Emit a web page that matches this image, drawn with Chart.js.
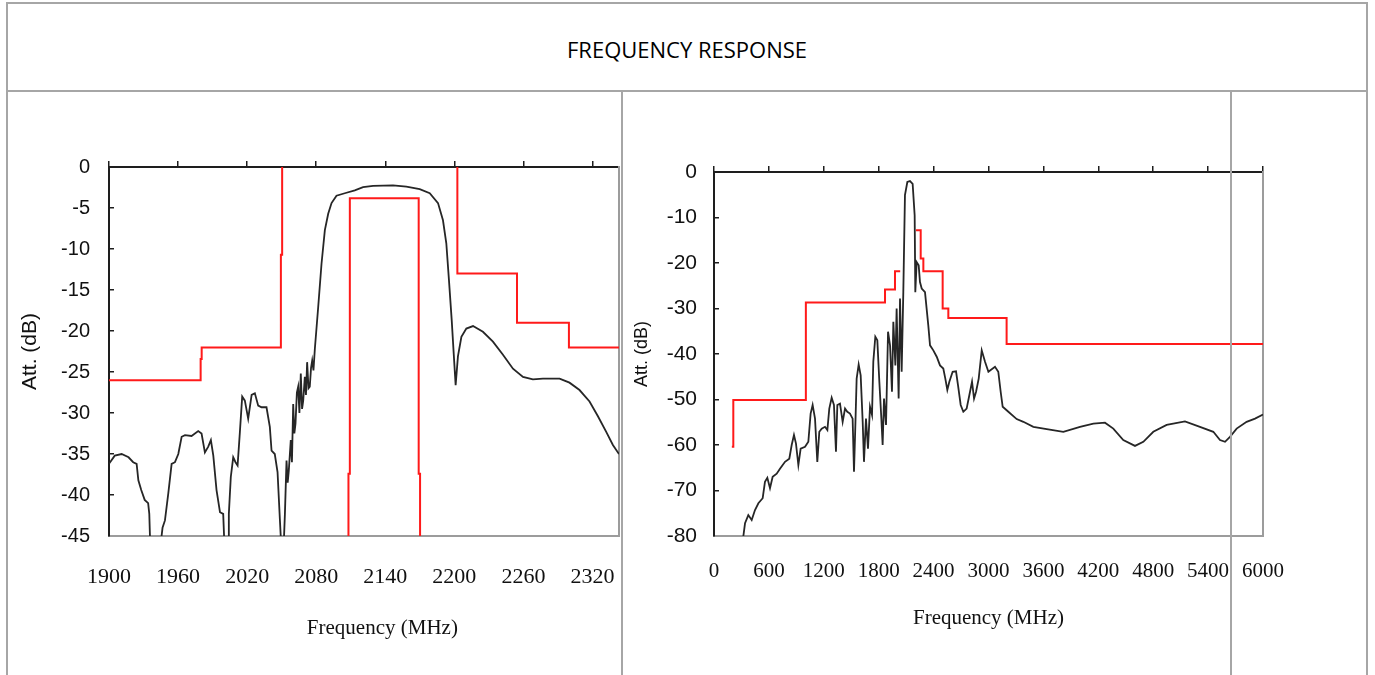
<!DOCTYPE html>
<html>
<head>
<meta charset="utf-8">
<title>Frequency response</title>
<script src="https://cdn.jsdelivr.net/npm/chart.js@4.4.1/dist/chart.umd.min.js"></script>
<style>
  html, body { margin: 0; padding: 0; background: #fff; }
  body { width: 1375px; height: 675px; position: relative; overflow: hidden; }
  .rule { position: absolute; background: #a6a6a6; z-index: 2; }
  #heading {
    position: absolute; left: 7px; width: 1360px; top: 34px;
    line-height: 30px; text-align: center;
    font-family: "Open Sans", sans-serif; font-size: 22px; color: #000;
  }
  canvas { position: absolute; }
</style>
</head>
<body>
<div class="rule" style="left:6px; top:2px; width:1362px; height:2px"></div>
<div class="rule" style="left:6px; top:90px; width:1362px; height:2px"></div>
<div class="rule" style="left:6px; top:2px; width:2px; height:673px"></div>
<div class="rule" style="left:1366px; top:2px; width:2px; height:673px"></div>
<div class="rule" style="left:621px; top:90px; width:2px; height:585px"></div>
<div class="rule" style="left:1230px; top:90px; width:2px; height:585px"></div>
<div id="heading">FREQUENCY RESPONSE</div>

<canvas id="narrowChart" width="614" height="580" style="left:8px; top:95px"></canvas>
<canvas id="wideChart" width="752" height="580" style="left:623px; top:95px"></canvas>

<script>
// Left plot: passband zoom, 1900 - 2343 MHz
const narrowTicks = [1900, 1960, 2020, 2080, 2140, 2200, 2260, 2320];
const narrowAttTicks = [0, -5, -10, -15, -20, -25, -30, -35, -40, -45];

const narrowFreq = [1900, 1905, 1911, 1917, 1921, 1924, 1925.5, 1928, 1931, 1934, 1935, 1936,
    1944, 1946.5, 1948.6, 1951.5, 1954.4, 1957.3, 1960.2, 1963.1, 1966, 1971.7, 1977.5, 1980.4,
    1983.3, 1986.2, 1988.5, 1990.6, 1993.4, 1996.4, 1999.2, 2000.5, 2003.5, 2004.1, 2005.8,
    2007.9, 2009.9, 2011.7, 2013.7, 2015.7, 2018, 2020.9, 2023.9, 2026.7, 2029.6, 2032.5,
    2036.8, 2039.7, 2041.2, 2044, 2046.4, 2048.4, 2049.9, 2051.5, 2052.8, 2054.2, 2055.2, 2056.2,
    2057.9, 2058.9, 2060, 2061, 2062, 2063.2, 2064.3, 2065.4, 2066.6, 2067.7, 2068.7, 2070.1,
    2071.1, 2072.1, 2073.3, 2074.4, 2075.5, 2076.5, 2077.6, 2078.8,
    2081.7, 2084.6, 2087.5, 2090.4, 2093.3, 2097.6, 2104.8, 2113.5, 2120.7, 2129.4, 2146.7,
    2158.3, 2169.9, 2178.6, 2185.8, 2190.1, 2193, 2195.3, 2197.7, 2199.4, 2201.1, 2203.1,
    2206.1, 2210.4, 2216.2, 2224.8, 2233.5, 2242.2, 2250.9, 2259.6, 2268.2, 2276.9, 2291.4,
    2300, 2308.7, 2317.4, 2324.7, 2331.9, 2337.7, 2343];
const narrowAtt = [-36.2, -35.2, -35.0, -35.4, -36.0, -36.2, -38.2, -39.4, -40.6, -41.0, -42.3, -47,
    -47, -44, -43.1, -39.8, -36.2, -36.0, -35.0, -32.9, -32.7, -32.8, -32.2, -32.5,
    -34.8, -34.1, -33.3, -35.2, -39.4, -42.1, -42.3, -47, -47, -42.3, -37.8,
    -35.4, -36.0, -36.4, -32.3, -28.0, -28.5, -30.7, -27.8, -27.6, -29.1, -29.3,
    -29.3, -31.7, -34.6, -35.0, -37.2, -42.9, -47, -47, -42.3, -35.8, -38.5, -37.0,
    -33.3, -36.0, -28.9, -32.5, -31.3, -27.5, -26.8, -30.0, -25.2, -29.5, -28.5, -25.6,
    -27.8, -23.8, -27.0, -26.8, -24.5, -23.6, -24.8, -22.2,
    -17.1, -11.8, -7.7, -5.7, -4.4, -3.5, -3.2, -2.85, -2.45, -2.3, -2.24,
    -2.4, -2.7, -3.2, -4.4, -6.5, -9.3, -13.8, -18.7, -22.7, -26.6, -23.1,
    -20.7, -19.7, -19.4, -20.1, -21.3, -22.9, -24.6, -25.6, -25.9, -25.8, -25.8,
    -26.3, -27.2, -28.6, -30.4, -32.3, -33.9, -35.0];

// rejection mask (null = gap where the mask runs along the top frame)
const narrowMaskFreq = [1900, 1979.6, 1979.6, 1980.5, 1980.5, 2049.3, 2049.3, 2050.4, 2050.4,
    2120, 2202.6, 2202.6, 2254.4, 2254.4, 2299.5, 2299.5, 2343];
const narrowMaskAtt = [-26, -26, -23.4, -23.4, -22, -22, -10.7, -10.7, 0,
    null, 0, -13, -13, -19, -19, -22, -22];

// passband limit
const bandFreq = [2108, 2108, 2109.2, 2109.2, 2169, 2169, 2170.2, 2170.2];
const bandAtt = [-47, -37.4, -37.4, -3.8, -3.8, -37.4, -37.4, -47];

// Right plot: wideband, 0 - 6000 MHz
const wideTicks = [0, 600, 1200, 1800, 2400, 3000, 3600, 4200, 4800, 5400, 6000];
const wideAttTicks = [0, -10, -20, -30, -40, -50, -60, -70, -80];

const wideFreq = [315, 321, 339, 375, 412, 448, 485, 532, 557, 583, 612, 641, 685, 721, 776,
    823, 849, 874, 896, 922, 947, 995, 1031, 1056, 1078, 1104, 1129, 1151, 1177, 1213, 1239,
    1260, 1286, 1311, 1333, 1348, 1377, 1406, 1432, 1457, 1486, 1515, 1530, 1545, 1559, 1581,
    1603, 1625, 1639, 1661, 1683, 1705, 1727, 1741, 1763, 1785, 1807, 1829, 1843, 1858, 1880,
    1902, 1924, 1945, 1960, 1982, 1996, 2018, 2033, 2051, 2069, 2087, 2113, 2142, 2171, 2193,
    2200, 2215, 2237, 2251, 2270, 2306, 2342, 2361, 2397, 2434, 2470, 2506, 2528, 2550, 2572,
    2608, 2645, 2667, 2696, 2725, 2761, 2791, 2820, 2842, 2864, 2893, 2926, 2962, 2999, 3071,
    3107, 3133, 3155, 3217, 3308, 3381, 3490, 3636, 3818, 4000, 4146, 4273, 4364, 4473, 4601,
    4692, 4801, 4947, 5147, 5311, 5457, 5530, 5585, 5639, 5712, 5821, 5913, 6000];
const wideAtt = [-81, -80, -77.2, -75.4, -76.5, -74.3, -72.8, -71.7, -68.1, -67.2, -69.5, -67, -66.3, -65.2, -63.7,
    -63, -60, -57.8, -59.7, -64.4, -60.8, -60.4, -59.3, -53.1, -51.2, -54.2, -63.7, -57.1, -56.4, -56, -56.7,
    -52, -49.6, -51.2, -61.5, -51.2, -50.9, -54.9, -52, -52.7, -53.1, -54.2, -65.9, -55.6, -45.4, -42.3,
    -44.7, -54.9, -63.7, -54.2, -60.8, -51.6, -53.4, -41.7, -36.2, -37, -46.1, -54.2, -60, -49.8, -55.6,
    -35.1, -38.1, -48.3, -32.9, -42.5, -30, -49.8, -27.8, -43.9, -26.4, -5.1, -2.2, -2, -2.6, -9.5,
    -26.4, -19.8, -20.5, -24.2, -25.6, -26.4, -33.7, -38.1, -39.2, -40.6, -42.5, -43.2, -45.4, -47.9, -46.1,
    -43.9, -43.8, -46.9, -51.2, -52.7, -52, -49, -46.1, -49.8, -48.3, -45.4, -39.2, -41.7, -43.9, -42.8,
    -43.9, -48.3, -51.6, -52.7, -54.3, -54.9, -56, -56.5, -57.1, -56, -55.3, -55.1, -56.4, -58.9, -60.2,
    -59.3, -57.1, -55.6, -54.8, -56, -57.1, -58.9, -59.3, -58.2, -56.4, -54.9, -54.2, -53.3];

const wideMaskFreq = [195, 211, 211, 1004, 1004, 1869, 1869, 1978, 1978, 2035,
    2120, 2208, 2259, 2259, 2288, 2288, 2499, 2499, 2561, 2561, 3198, 3198, 6000];
const wideMaskAtt = [-60.4, -60.4, -50.1, -50.1, -28.7, -28.7, -25.8, -25.8, -21.8, -21.8,
    null, -12.8, -12.8, -19, -19, -21.8, -21.8, -30, -30, -32.1, -32.1, -37.8, -37.8];

const TRACE = '#262626';
const MASK = '#ff1a1a';
const FRAME = '#1e1e1e';
const GREY = '#9c9c9c';

function pts(xs, ys) {
    return xs.map((x, i) => ({ x: x, y: ys[i] }));
}

function fixedTicks(values) {
    return axis => { axis.ticks = values.map(v => ({ value: v })); };
}

function makePlot(id, o) {
    const datasets = o.series.map(s => ({
        data: s.data,
        borderColor: s.color,
        borderWidth: s.width,
        pointRadius: 0,
        tension: 0,
        spanGaps: false
    }));

    return new Chart(document.getElementById(id), {
        type: 'line',
        data: { datasets: datasets },
        options: {
            responsive: false,
            animation: false,
            events: [],
            layout: { padding: o.padding },
            plugins: { legend: { display: false }, tooltip: { enabled: false } },
            scales: {
                x: {
                    type: 'linear', position: 'bottom', min: o.xMin, max: o.xMax,
                    afterBuildTicks: fixedTicks(o.xTicks),
                    afterFit: s => { s.height = 119; },
                    // invisible tick length pushes the labels down without
                    // reserving extra room at the sides
                    grid: { display: false, drawTicks: true, tickLength: o.xTickPad },
                    border: { display: true, color: GREY, width: 2 },
                    ticks: {
                        padding: 0, color: '#111',
                        font: { family: 'Liberation Serif', size: o.xTickSize, lineHeight: 1.2 },
                        callback: v => String(v)
                    },
                    title: {
                        display: true, text: o.xTitle, color: '#111',
                        font: { family: 'Liberation Serif', size: 21, lineHeight: 1.2 },
                        padding: { top: 0, bottom: o.xTitlePad }
                    }
                },
                xTop: {
                    type: 'linear', position: 'top', min: o.xMin, max: o.xMax,
                    afterBuildTicks: fixedTicks(o.xTicks),
                    afterFit: s => { s.height = 10; },
                    grid: { display: true, drawOnChartArea: false, drawTicks: true, tickLength: 6,
                            color: FRAME, lineWidth: 1.5 },
                    border: { display: true, color: FRAME, width: 2 },
                    ticks: { display: false }
                },
                y: {
                    type: 'linear', position: 'left', min: o.yMin, max: 0,
                    afterBuildTicks: fixedTicks(o.yTicks),
                    afterFit: s => { s.width = o.yWidth; },
                    // negative length puts the tick marks inside the frame
                    grid: { display: true, drawOnChartArea: false, drawTicks: true, tickLength: -5,
                            color: FRAME, lineWidth: 1.5 },
                    border: { display: true, color: FRAME, width: 2 },
                    ticks: {
                        padding: o.yTickPad, color: '#111',
                        font: { family: 'Liberation Sans', size: o.yTickSize },
                        callback: v => String(v)
                    },
                    title: {
                        display: true, text: 'Att. (dB)', color: '#111',
                        font: { family: 'Liberation Sans', size: o.yTitleSize, lineHeight: 1.2 },
                        padding: { top: o.yTitlePad, bottom: 0 }
                    }
                },
                yEdge: {
                    type: 'linear', position: 'right',
                    afterFit: s => { s.width = 1; },
                    grid: { display: false },
                    border: { display: true, color: GREY, width: 2 },
                    ticks: { display: false }
                }
            }
        }
    });
}

makePlot('narrowChart', {
    xMin: 1900, xMax: 2343, xTicks: narrowTicks,
    yMin: -45, yTicks: narrowAttTicks,
    padding: { left: 0, top: 62, right: 2, bottom: 20 },
    yWidth: 101, yTickPad: 24, yTickSize: 20, yTitleSize: 21, yTitlePad: 10,
    xTickPad: 28, xTickSize: 22, xTitlePad: 14,
    xTitle: '       Frequency (MHz)',
    series: [
        { data: pts(narrowFreq, narrowAtt), color: TRACE, width: 1.8 },
        { data: pts(narrowMaskFreq, narrowMaskAtt), color: MASK, width: 2 },
        { data: pts(bandFreq, bandAtt), color: MASK, width: 2 }
    ]
});

makePlot('wideChart', {
    xMin: 0, xMax: 6000, xTicks: wideTicks,
    yMin: -80, yTicks: wideAttTicks,
    padding: { left: 0, top: 67, right: 111, bottom: 20 },
    yWidth: 91, yTickPad: 22, yTickSize: 21, yTitleSize: 18, yTitlePad: 8,
    xTickPad: 23, xTickSize: 21, xTitlePad: 24,
    xTitle: 'Frequency (MHz)',
    series: [
        { data: pts(wideFreq, wideAtt), color: TRACE, width: 1.8 },
        { data: pts(wideMaskFreq, wideMaskAtt), color: MASK, width: 2 }
    ]
});
</script>
</body>
</html>
